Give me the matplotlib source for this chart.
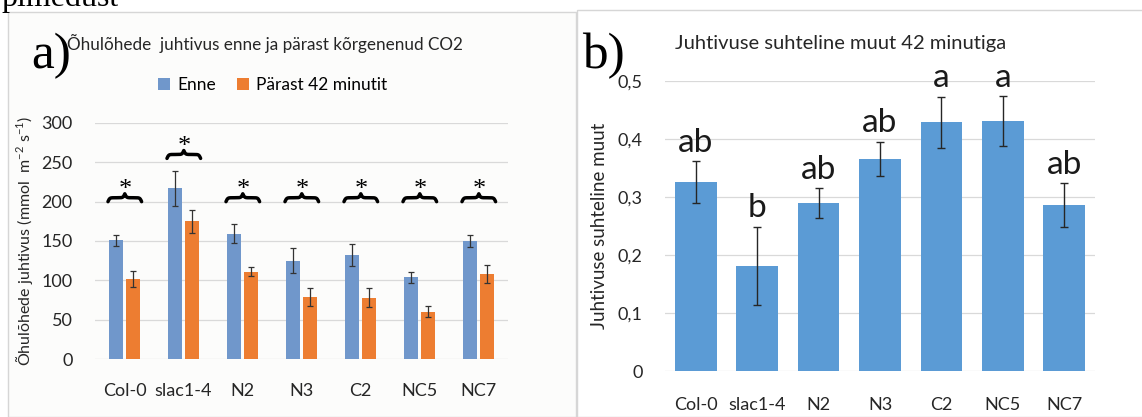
import matplotlib

matplotlib.use("Agg")
import matplotlib.pyplot as plt
import numpy as np
from matplotlib.patches import Rectangle
from matplotlib.ticker import FuncFormatter

plt.rcParams["font.family"] = ["Lato", "DejaVu Sans"]
plt.rcParams["mathtext.fontset"] = "custom"
plt.rcParams["mathtext.rm"] = "Lato"
plt.rcParams["mathtext.it"] = "Lato:italic"

# data
lines = ["Col-0", "slac1-4", "N2", "N3", "C2", "NC5", "NC7"]
before = [151, 217, 159, 125, 132, 104, 150]
before_err = [7, 22, 12, 16, 14, 7, 8]
after = [102, 175, 111, 79, 78, 60, 108]
after_err = [10, 15, 6, 11, 12, 7, 11]
brace_level = [200, 255, 200, 200, 200, 200, 200]

rel_change = [0.326, 0.181, 0.289, 0.366, 0.429, 0.431, 0.286]
rel_err = [0.036, 0.068, 0.026, 0.029, 0.044, 0.043, 0.038]
groups = ["ab", "b", "ab", "ab", "a", "a", "ab"]

C_BEFORE, C_AFTER, C_REL = "#7097cb", "#ed7d31", "#5b9bd5"
GRID = "#d9d9d9"
W, H = 1142, 417


def brace(ax, x0, x1, y, h, lw=2.5):
    """Horizontal curly brace pointing up, spanning x0..x1 at height y."""
    beta = 40.0
    t = np.linspace(0, 0.5, 100)
    half = 1 / (1 + np.exp(-beta * (t - t[0]))) + 1 / (1 + np.exp(-beta * (t - t[-1])))
    yy = np.concatenate((half, half[-2::-1]))
    xx = np.linspace(x0, x1, len(yy))
    ax.plot(xx, y + (yy - 0.5) * h, color="black", lw=lw, solid_capstyle="round",
            clip_on=False, zorder=4)


def style(ax, xpad):
    for s in ax.spines.values():
        s.set_visible(False)
    ax.grid(axis="y", color=GRID, lw=0.9)
    ax.set_axisbelow(True)
    ax.tick_params(length=0, labelsize=13, colors="#262626")
    ax.tick_params(axis="y", pad=16)
    ax.tick_params(axis="x", pad=xpad)


fig = plt.figure(figsize=(W / 100, H / 100), dpi=100)

# panel frames, behind the axes
fig.patches.append(Rectangle((8 / W, 0), 568 / W, 1 - 12 / H, transform=fig.transFigure,
                             facecolor="#fcfcfb", edgecolor="#d6d6d6", lw=1, zorder=-5))
fig.patches.append(Rectangle((577 / W, 0), 570 / W, 1 - 10 / H, transform=fig.transFigure,
                             facecolor="white", edgecolor="#d6d6d6", lw=1, zorder=-5))
fig.text(1 / W, 1 - 6 / H, "pimedust", family="Liberation Serif", fontsize=23,
         va="baseline", ha="left")

# a) conductance before / after
ax = fig.add_axes([95 / W, 1 - 359 / H, 413 / W, 236 / H])
ax.set_facecolor("none")
x = np.arange(len(lines))
bw = 0.235
ax.bar(x - bw / 2 - 0.02, before, bw, color=C_BEFORE, label="Enne", zorder=2)
ax.bar(x + bw / 2 + 0.02, after, bw, color=C_AFTER, label="Pärast 42 minutit", zorder=2)
ax.errorbar(x - bw / 2 - 0.02, before, yerr=before_err, fmt="none", ecolor="#333333",
            elinewidth=0.9, capsize=2.5, capthick=0.9, zorder=3)
ax.errorbar(x + bw / 2 + 0.02, after, yerr=after_err, fmt="none", ecolor="#333333",
            elinewidth=0.9, capsize=2.5, capthick=0.9, zorder=3)
for i, lvl in enumerate(brace_level):
    brace(ax, i - 0.28, i + 0.29, lvl, 10)
    ax.text(i + 0.01, lvl + 1, "*", family="Liberation Serif", fontsize=19,
            ha="center", va="bottom")
ax.set_xlim(-0.5, len(lines) - 0.5)
ax.set_ylim(0, 300)
ax.set_yticks(range(0, 301, 50))
ax.set_xticks(x, lines)
style(ax, 17)
ax.set_ylabel(r"Õhulõhede juhtivus (mmol  m$^{-2}$ s$^{-1}$)", fontsize=11.5,
              color="#262626", labelpad=5)
ax.legend(loc="lower center", bbox_to_anchor=(0.43, 1.06), ncol=2, frameon=False,
          fontsize=12.5, handlelength=0.7, handleheight=0.7, columnspacing=1.2,
          handletextpad=0.4)
fig.text(67 / W, 1 - 43 / H, "Õhulõhede  juhtivus enne ja pärast kõrgenenud CO2",
         fontsize=12.3, va="center", color="#262626")
fig.text(31 / W, 1 - 56 / H, "a)", family="Liberation Serif", fontsize=37,
         va="center", ha="left")

# b) relative change
bx = fig.add_axes([665 / W, 1 - 371 / H, 430 / W, 290 / H])
bx.set_facecolor("none")
bx.bar(x, rel_change, 0.68, color=C_REL, zorder=2)
bx.errorbar(x, rel_change, yerr=rel_err, fmt="none", ecolor="#262626",
            elinewidth=1.0, capsize=3, capthick=1.0, zorder=3)
for i, (v, e, g) in enumerate(zip(rel_change, rel_err, groups)):
    bx.text(i, v + e + 0.006, g, fontsize=24, ha="center", va="bottom", color="#1a1a1a")
bx.set_xlim(-0.5, len(lines) - 0.5)
bx.set_ylim(0, 0.5)
bx.set_yticks(np.arange(0, 0.51, 0.1))
bx.yaxis.set_major_formatter(FuncFormatter(lambda v, _: "0" if v == 0 else f"{v:.1f}".replace(".", ",")))
bx.set_xticks(x, lines)
style(bx, 19)
bx.set_ylabel("Juhtivuse suhteline muut", fontsize=13.5, color="#262626", labelpad=7)
fig.text(675 / W, 1 - 43 / H, "Juhtivuse suhteline muut 42 minutiga", fontsize=14.5,
         va="center", color="#262626")
fig.text(582 / W, 1 - 56 / H, "b)", family="Liberation Serif", fontsize=37,
         va="center", ha="left")

fig.savefig("out.png", dpi=100)
